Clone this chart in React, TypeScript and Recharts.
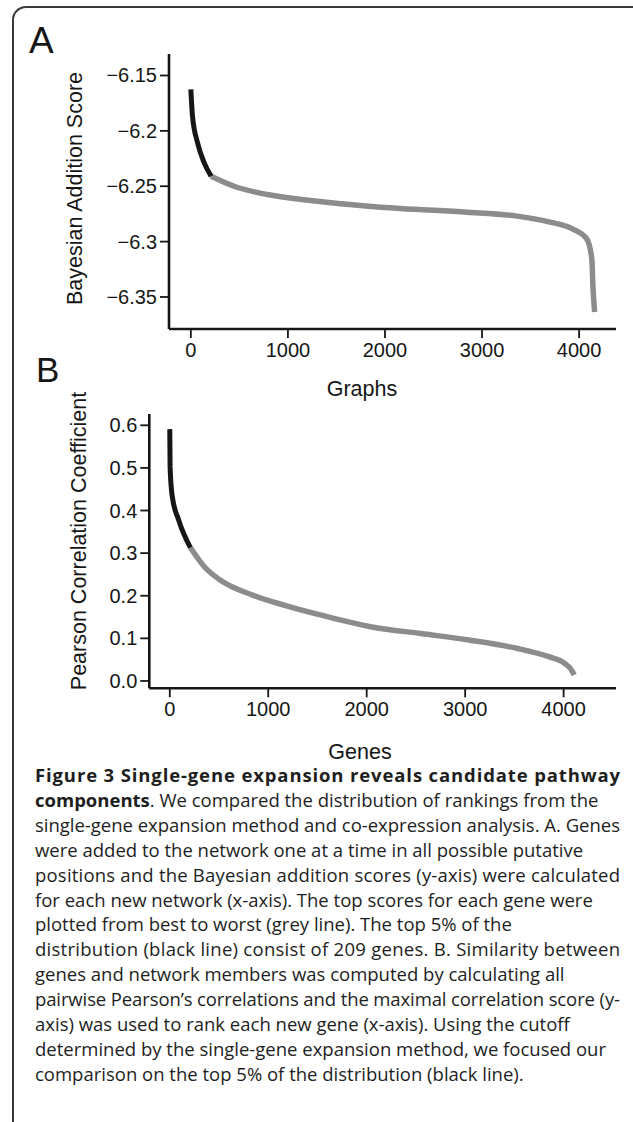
import React from 'react';
import { LineChart, Line, XAxis, YAxis } from 'recharts';

// ---- tick labels ----
const graphsTicks = [0, 1000, 2000, 3000, 4000];
const scoreTicks = [-6.35, -6.3, -6.25, -6.2, -6.15];
const genesTicks = [0, 1000, 2000, 3000, 4000];
const pearsonTicks = [0, 0.1, 0.2, 0.3, 0.4, 0.5, 0.6];

// ---- panel A: Bayesian addition score by graph rank ----
const topGraphRanks = [0, 17, 69, 137, 209];
const topGraphScores = [-6.1626, -6.1867, -6.2107, -6.2287, -6.241];
const restGraphRanks = [209, 445, 788, 1233, 1470, 2158, 2847, 3360, 3700, 3936, 4080, 4131, 4142, 4160];
const restGraphScores = [-6.241, -6.25, -6.2575, -6.2628, -6.2652, -6.2702, -6.2734, -6.277, -6.2824, -6.2887, -6.2977, -6.3157, -6.34, -6.3635];

// ---- panel B: Pearson correlation by gene rank ----
const topGeneRanks = [0, 3, 25, 90, 209];
const topGeneCorr = [0.591, 0.503, 0.433, 0.378, 0.313];
const restGeneRanks = [209, 351, 511, 836, 1159, 1580, 2066, 2552, 3038, 3524, 3848, 4010, 4091, 4107];
const restGeneCorr = [0.313, 0.268, 0.237, 0.202, 0.178, 0.152, 0.1262, 0.1112, 0.0962, 0.0767, 0.057, 0.0415, 0.0218, 0.014];

// caption lines; "full" lines run to the right margin in the original
const captionLines: { bold?: string; text: string; full?: boolean }[] = [
  { bold: 'Figure 3 Single-gene expansion reveals candidate pathway', text: '', full: true },
  { bold: 'components', text: '. We compared the distribution of rankings from the' },
  { text: 'single-gene expansion method and co-expression analysis. A. Genes', full: true },
  { text: 'were added to the network one at a time in all possible putative' },
  { text: 'positions and the Bayesian addition scores (y-axis) were calculated', full: true },
  { text: 'for each new network (x-axis). The top scores for each gene were' },
  { text: 'plotted from best to worst (grey line). The top 5% of the' },
  { text: 'distribution (black line) consist of 209 genes. B. Similarity between', full: true },
  { text: 'genes and network members was computed by calculating all' },
  { text: 'pairwise Pearson\u2019s correlations and the maximal correlation score (y-', full: true },
  { text: 'axis) was used to rank each new gene (x-axis). Using the cutoff' },
  { text: 'determined by the single-gene expansion method, we focused our' },
  { text: 'comparison on the top 5% of the distribution (black line).' },
];

const zip = (xs: number[], ys: number[]) => xs.map((x, i) => ({ x, y: ys[i] }));

const FONT = '"Liberation Sans", Arial, Helvetica, sans-serif';
const CAP_FONT = '"Open Sans", "Noto Sans", sans-serif';
const INK = '#161616';
const GREY = '#8c8c8c';

const XTick = (props: any) => {
  const { x, y, payload } = props;
  return (
    <text x={x} y={y} dy={17} textAnchor="middle" fontSize={20} fontFamily={FONT} fill={INK}>
      {payload.value}
    </text>
  );
};

const makeYTick = (fmt: (v: number) => string) => (props: any) => {
  const { x, y, payload } = props;
  return (
    <text x={x} y={y} dy={7} textAnchor="end" fontSize={20} fontFamily={FONT} fill={INK}>
      {fmt(payload.value)}
    </text>
  );
};

const scoreFmt = (v: number) => (v < 0 ? '\u2212' : '') + Math.abs(v).toString();
const pearsonFmt = (v: number) => v.toFixed(1);

const YTitle = (props: any) => {
  const { text, tx, ty } = props;
  return (
    <text
      transform={`translate(${tx},${ty}) rotate(-90)`}
      textAnchor="middle"
      fontSize={21.5}
      fontFamily={FONT}
      fill={INK}
    >
      {text}
    </text>
  );
};

const XTitle = (props: any) => {
  const { text, tx, ty } = props;
  return (
    <text x={tx} y={ty} textAnchor="middle" fontSize={21.5} fontFamily={FONT} fill={INK}>
      {text}
    </text>
  );
};

const axisLine = { stroke: INK, strokeWidth: 2.6 };
const tickLine = { stroke: INK, strokeWidth: 1.8 };

export default function App() {
  const aTop = zip(topGraphRanks, topGraphScores);
  const aRest = zip(restGraphRanks, restGraphScores);
  const bTop = zip(topGeneRanks, topGeneCorr);
  const bRest = zip(restGeneRanks, restGeneCorr);

  return (
    <div
      style={{
        position: 'absolute',
        left: 0,
        top: 0,
        width: 633,
        height: 1122,
        overflow: 'hidden',
        background: '#fff',
      }}
    >
      {/* frame */}
      <div
        style={{
          position: 'absolute',
          left: 12,
          top: 6,
          width: 700,
          height: 1200,
          borderTop: '2px solid #3a3a3a',
          borderLeft: '2px solid #3a3a3a',
          borderTopLeftRadius: 14,
        }}
      />

      <div style={{ position: 'absolute', left: 29, top: 21, fontFamily: FONT, fontSize: 37, color: INK, lineHeight: '40px' }}>A</div>
      <div style={{ position: 'absolute', left: 36, top: 350, fontFamily: FONT, fontSize: 35, color: INK, lineHeight: '40px' }}>B</div>

      {/* Panel A */}
      <div style={{ position: 'absolute', left: 0, top: 0 }}>
        <LineChart width={633} height={410} margin={{ top: 54, right: 17, bottom: 51, left: 0 }}>
          <XAxis
            type="number"
            dataKey="x"
            domain={[-225, 4380]}
            ticks={graphsTicks}
            interval={0}
            allowDataOverflow
            height={30}
            tickSize={9}
            tickMargin={2}
            axisLine={axisLine}
            tickLine={tickLine}
            tick={<XTick />}
            label={<XTitle text="Graphs" tx={362} ty={396} />}
          />
          <YAxis
            type="number"
            dataKey="y"
            domain={[-6.3789, -6.1306]}
            ticks={scoreTicks}
            interval={0}
            allowDataOverflow
            width={169}
            tickSize={9}
            tickMargin={3}
            axisLine={axisLine}
            tickLine={tickLine}
            tick={makeYTick(scoreFmt)}
            label={<YTitle text="Bayesian Addition Score" tx={82} ty={188.5} />}
          />
          <Line data={aRest} dataKey="y" type="monotone" stroke={GREY} strokeWidth={5.5} dot={false} activeDot={false} isAnimationActive={false} />
          <Line data={aTop} dataKey="y" type="monotone" stroke={INK} strokeWidth={5} dot={false} activeDot={false} isAnimationActive={false} />
        </LineChart>
      </div>

      {/* Panel B */}
      <div style={{ position: 'absolute', left: 0, top: 340 }}>
        <LineChart width={633} height={440} margin={{ top: 74, right: 17, bottom: 61.7, left: 0 }}>
          <XAxis
            type="number"
            dataKey="x"
            domain={[-208, 4532]}
            ticks={genesTicks}
            interval={0}
            allowDataOverflow
            height={30}
            tickSize={9}
            tickMargin={2}
            axisLine={axisLine}
            tickLine={tickLine}
            tick={<XTick />}
            label={<XTitle text="Genes" tx={360} ty={419} />}
          />
          <YAxis
            type="number"
            dataKey="y"
            domain={[-0.0172, 0.6265]}
            ticks={pearsonTicks}
            interval={0}
            allowDataOverflow
            width={149.3}
            tickSize={9}
            tickMargin={3}
            axisLine={axisLine}
            tickLine={tickLine}
            tick={makeYTick(pearsonFmt)}
            label={<YTitle text="Pearson Correlation Coefficient" tx={86} ty={201} />}
          />
          <Line data={bRest} dataKey="y" type="monotone" stroke={GREY} strokeWidth={5.5} dot={false} activeDot={false} isAnimationActive={false} />
          <Line data={bTop} dataKey="y" type="monotone" stroke={INK} strokeWidth={5} dot={false} activeDot={false} isAnimationActive={false} />
        </LineChart>
      </div>

      {/* caption */}
      <svg width={633} height={1122} style={{ position: 'absolute', left: 0, top: 0, pointerEvents: 'none' }}>
        {captionLines.map((ln, i) => (
          <text
            key={i}
            x={35}
            y={782 + i * 24.9}
            fontFamily={CAP_FONT}
            fontSize={18.5}
            fill="#1e1e1e"
            {...(ln.full ? { textLength: 585, lengthAdjust: 'spacing' } : {})}
          >
            {ln.bold ? <tspan fontWeight="bold">{ln.bold}</tspan> : null}
            {ln.text ? <tspan>{ln.text}</tspan> : null}
          </text>
        ))}
      </svg>
    </div>
  );
}
